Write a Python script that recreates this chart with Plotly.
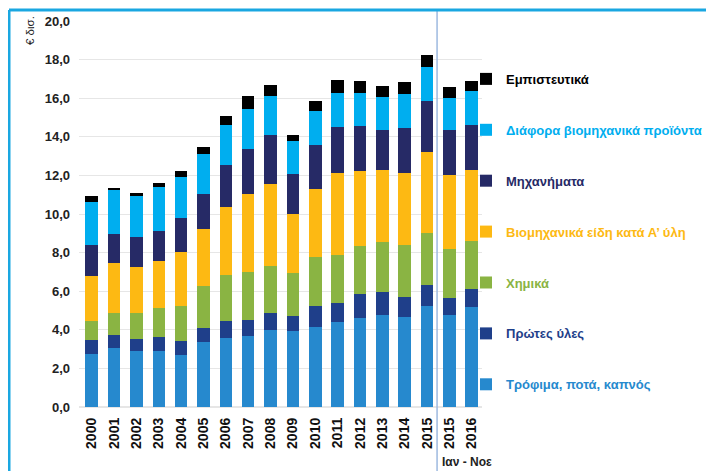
import plotly.graph_objects as go

# categories (x axis); the second 2015 bar is Jan-Nov
years = ["2000", "2001", "2002", "2003", "2004", "2005", "2006", "2007", "2008",
         "2009", "2010", "2011", "2012", "2013", "2014", "2015", "2015", "2016"]

# values in € bn, bottom to top of the stack
food = [2.76, 3.05, 2.88, 2.88, 2.69, 3.35, 3.59, 3.69, 4.01, 3.92, 4.16, 4.38, 4.61, 4.78, 4.66, 5.25, 4.75, 5.18]
raw = [0.69, 0.70, 0.64, 0.73, 0.75, 0.76, 0.88, 0.83, 0.84, 0.78, 1.06, 1.01, 1.26, 1.16, 1.04, 1.06, 0.92, 0.92]
chem = [0.99, 1.12, 1.37, 1.52, 1.78, 2.14, 2.35, 2.48, 2.44, 2.26, 2.54, 2.49, 2.47, 2.60, 2.68, 2.73, 2.50, 2.49]
manuf = [2.37, 2.59, 2.37, 2.46, 2.83, 2.98, 3.52, 4.03, 4.24, 3.05, 3.51, 4.27, 3.88, 3.72, 3.77, 4.15, 3.84, 3.67]
machines = [1.59, 1.49, 1.54, 1.55, 1.72, 1.83, 2.19, 2.32, 2.58, 2.06, 2.30, 2.37, 2.34, 2.07, 2.32, 2.65, 2.34, 2.36]
misc = [2.23, 2.30, 2.11, 2.25, 2.16, 2.03, 2.06, 2.09, 2.02, 1.69, 1.76, 1.75, 1.71, 1.75, 1.76, 1.79, 1.66, 1.77]
confid = [0.28, 0.11, 0.19, 0.24, 0.31, 0.36, 0.47, 0.66, 0.57, 0.33, 0.52, 0.67, 0.62, 0.57, 0.59, 0.63, 0.55, 0.51]

series = [
    ("Τρόφιμα, ποτά, καπνός", food, "#2689CE"),
    ("Πρώτες ύλες", raw, "#1F3F8A"),
    ("Χημικά", chem, "#8AB443"),
    ("Βιομηχανικά είδη κατά Α’ ύλη", manuf, "#FDB913"),
    ("Μηχανήματα", machines, "#262A66"),
    ("Διάφορα βιομηχανικά προϊόντα", misc, "#00AEEF"),
    ("Εμπιστευτικά", confid, "#000000"),
]

W, H = 714, 471
OFF = 8  # page body margin: figure starts 8px into the window
# plot area in window pixels: left 79, right 482, top(20) 21, bottom(0) 407.5
ML, MR, MT, MB = 79 - OFF, W - (482 - OFF), 21 - OFF, H - (407.5 - OFF)
pw, ph = W - ML - MR, H - MT - MB


def px_x(p):
    # window pixel -> paper x
    return (p - OFF - ML) / pw


def px_y(p):
    # window pixel -> paper y
    return (H - MB - (p - OFF)) / ph


idx = list(range(len(years)))
fig = go.Figure()
for i, (name, vals, col) in enumerate(series):
    fig.add_trace(go.Bar(
        x=idx, y=vals,
        name=f"<span style='color:{col}'>{name}</span>",
        marker=dict(color=col, line=dict(width=0)),
        legendgroup=name, legendrank=len(series) - i,
    ))

# separator between full years and the Jan-Nov comparison
fig.add_shape(type="line", xref="x", yref="paper", x0=15.45, x1=15.45,
              y0=px_y(H + 10), y1=px_y(10), line=dict(color="#9DB9E0", width=1.5))

# blue frame of the original slide
fig.add_shape(type="line", xref="paper", yref="paper", x0=px_x(9), x1=px_x(9),
              y0=px_y(10), y1=px_y(H + 10), line=dict(color="#1AA7E1", width=3))
fig.add_shape(type="line", xref="paper", yref="paper", x0=px_x(9), x1=px_x(W + 10),
              y0=px_y(10), y1=px_y(10), line=dict(color="#1AA7E1", width=3))

fig.add_annotation(text="€ δισ.", textangle=-90, xref="paper", yref="paper",
                   x=px_x(30), y=px_y(31), xanchor="center", yanchor="middle",
                   showarrow=False, font=dict(size=11.5, color="#222"))
fig.add_annotation(text="<b>Ιαν - Νοε</b>", xref="x", yref="paper",
                   x=15.45, xanchor="left", xshift=3, y=px_y(463), yanchor="middle",
                   showarrow=False, font=dict(size=12, color="#222"))

fig.update_layout(
    width=W, height=H,
    margin=dict(l=ML, r=MR, t=MT, b=MB, autoexpand=False),
    barmode="stack", bargap=0.44,
    plot_bgcolor="white", paper_bgcolor="white",
    font=dict(family="Liberation Sans, Arial, sans-serif", color="#222"),
    separators=",.",
    legend=dict(
        x=px_x(466), y=px_y(64), xanchor="left", yanchor="top",
        traceorder="grouped", tracegroupgap=31,
        font=dict(size=13, weight="bold"),
        bgcolor="rgba(0,0,0,0)",
    ),
    xaxis=dict(
        tickmode="array", tickvals=idx, ticktext=years, tickangle=-90,
        range=[-0.57, 17.46], showgrid=False, zeroline=False, showline=False,
        tickfont=dict(size=14, weight="bold", color="#111"), automargin=False,
        ticklabelstandoff=7,
    ),
    yaxis=dict(
        range=[0, 20], dtick=2, tickformat=".1f", showgrid=True,
        gridcolor="#E6E6E6", gridwidth=1, zeroline=True, zerolinecolor="#E6E6E6",
        showline=False, tickfont=dict(size=13, weight="bold", color="#222"),
        ticks="", ticklen=0, automargin=False, ticklabelstandoff=8,
    ),
)

fig.write_html("out.html")
